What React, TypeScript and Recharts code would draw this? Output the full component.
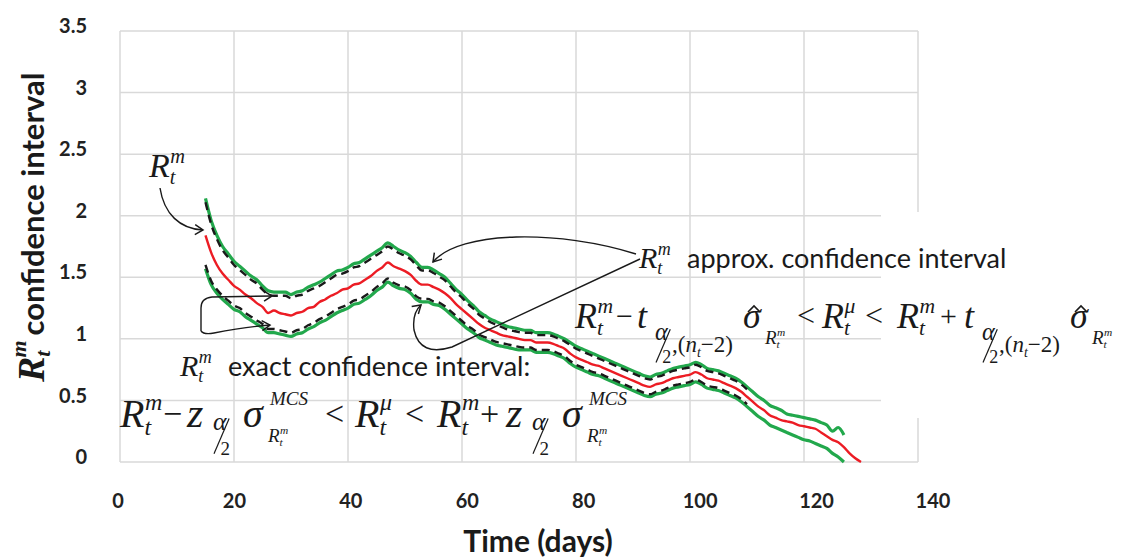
import React from 'react';
import { LineChart, Line, XAxis, YAxis, CartesianGrid } from 'recharts';

// days run from 15 upward, one value per day
const firstDay = 15;

const meanRt = [
  1.84, 1.7, 1.6, 1.53, 1.48, 1.43, 1.4, 1.36, 1.33, 1.29,
  1.26, 1.21, 1.23, 1.21, 1.2, 1.19, 1.21, 1.22, 1.25, 1.26,
  1.3, 1.32, 1.35, 1.37, 1.4, 1.41, 1.44, 1.45, 1.48, 1.51,
  1.55, 1.58, 1.62, 1.59, 1.57, 1.55, 1.52, 1.47, 1.44, 1.44,
  1.42, 1.4, 1.37, 1.33, 1.28, 1.24, 1.2, 1.16, 1.12, 1.09,
  1.07, 1.05, 1.03, 1.02, 1.01, 1.0, 0.99, 0.99, 0.97, 0.97,
  0.97, 0.96, 0.94, 0.92, 0.88, 0.85, 0.83, 0.81, 0.79, 0.78,
  0.76, 0.74, 0.72, 0.7, 0.68, 0.66, 0.64, 0.62, 0.61, 0.63,
  0.64, 0.66, 0.68, 0.69, 0.7, 0.71, 0.73, 0.71, 0.68, 0.67,
  0.66, 0.64, 0.62, 0.6, 0.57, 0.53, 0.49, 0.45, 0.42, 0.38,
  0.36, 0.34, 0.33, 0.32, 0.3, 0.29, 0.28, 0.27, 0.24, 0.21,
  0.18, 0.16, 0.12, 0.07, 0.03, 0.0,
];

// exact (MCS) interval, green
const exactUpper = [
  2.14, 1.96, 1.84, 1.75, 1.69, 1.63, 1.59, 1.55, 1.51, 1.48,
  1.43, 1.39, 1.38, 1.38, 1.38, 1.36, 1.38, 1.39, 1.42, 1.44,
  1.46, 1.49, 1.52, 1.55, 1.56, 1.58, 1.61, 1.62, 1.65, 1.68,
  1.71, 1.74, 1.78, 1.75, 1.72, 1.7, 1.67, 1.62, 1.58, 1.58,
  1.56, 1.53, 1.5, 1.45, 1.4, 1.36, 1.31, 1.27, 1.22, 1.19,
  1.16, 1.14, 1.12, 1.1, 1.09, 1.08, 1.07, 1.07, 1.05, 1.05,
  1.05, 1.04, 1.02, 1.0, 0.97, 0.94, 0.92, 0.9, 0.88, 0.86,
  0.84, 0.82, 0.8, 0.78, 0.76, 0.74, 0.72, 0.7, 0.69, 0.71,
  0.72, 0.74, 0.76, 0.77, 0.78, 0.79, 0.81, 0.79, 0.76, 0.75,
  0.74, 0.72, 0.7, 0.68, 0.65, 0.61, 0.57, 0.53, 0.5, 0.46,
  0.44, 0.42, 0.39, 0.38, 0.37, 0.36, 0.35, 0.34, 0.32, 0.3,
  0.25, 0.28, 0.22,
];

const exactLower = [
  1.57, 1.44, 1.37, 1.32, 1.28, 1.24, 1.22, 1.18, 1.15, 1.12,
  1.09, 1.05, 1.05, 1.04, 1.03, 1.02, 1.04, 1.05, 1.08, 1.1,
  1.13, 1.15, 1.18, 1.21, 1.23, 1.25, 1.28, 1.29, 1.32, 1.35,
  1.39, 1.42, 1.46, 1.43, 1.41, 1.4, 1.37, 1.32, 1.3, 1.3,
  1.28, 1.27, 1.24, 1.2, 1.16, 1.12, 1.08, 1.05, 1.01, 0.99,
  0.97, 0.95, 0.94, 0.93, 0.92, 0.91, 0.91, 0.91, 0.89, 0.89,
  0.89, 0.88, 0.86, 0.84, 0.8, 0.77, 0.75, 0.73, 0.71, 0.7,
  0.68, 0.66, 0.64, 0.62, 0.6, 0.58, 0.56, 0.54, 0.53, 0.55,
  0.56, 0.58, 0.6, 0.61, 0.62, 0.63, 0.65, 0.63, 0.6, 0.59,
  0.58, 0.56, 0.54, 0.52, 0.49, 0.45, 0.41, 0.37, 0.34, 0.3,
  0.28, 0.26, 0.24, 0.22, 0.2, 0.18, 0.17, 0.15, 0.13, 0.11,
  0.07, 0.04, 0.0,
];

// approximate (t) interval, black dashed
const approxUpper = [
  2.11, 1.93, 1.81, 1.72, 1.66, 1.6, 1.56, 1.52, 1.48, 1.45,
  1.4, 1.36, 1.35, 1.35, 1.35, 1.33, 1.35, 1.36, 1.39, 1.41,
  1.43, 1.46, 1.49, 1.52, 1.53, 1.55, 1.58, 1.59, 1.62, 1.65,
  1.68, 1.71, 1.75, 1.725, 1.695, 1.675, 1.645, 1.595, 1.555, 1.555,
  1.535, 1.505, 1.475, 1.425, 1.375, 1.335, 1.285, 1.245, 1.195, 1.165,
  1.135, 1.115, 1.095, 1.075, 1.065, 1.055, 1.05, 1.05, 1.03, 1.03,
  1.03, 1.02, 1.0, 0.98, 0.95, 0.92, 0.9, 0.88, 0.86, 0.84,
  0.82, 0.8, 0.78, 0.76, 0.74, 0.72, 0.7, 0.68, 0.67, 0.69,
  0.7, 0.72, 0.74, 0.75, 0.76, 0.77, 0.79, 0.77, 0.74, 0.73,
  0.72, 0.7, 0.68, 0.66, 0.63, 0.59,
];

const approxLower = [
  1.6, 1.47, 1.4, 1.35, 1.31, 1.27, 1.25, 1.21, 1.18, 1.15,
  1.12, 1.08, 1.08, 1.07, 1.06, 1.05, 1.07, 1.08, 1.11, 1.13,
  1.16, 1.18, 1.21, 1.24, 1.26, 1.28, 1.31, 1.32, 1.35, 1.38,
  1.42, 1.45, 1.49, 1.455, 1.435, 1.425, 1.395, 1.345, 1.325, 1.325,
  1.305, 1.295, 1.265, 1.225, 1.185, 1.145, 1.105, 1.075, 1.035, 1.015,
  0.995, 0.975, 0.965, 0.955, 0.945, 0.935, 0.93, 0.93, 0.91, 0.91,
  0.91, 0.9, 0.88, 0.86, 0.82, 0.79, 0.77, 0.75, 0.73, 0.72,
  0.7, 0.68, 0.66, 0.64, 0.62, 0.6, 0.58, 0.56, 0.55, 0.57,
  0.58, 0.6, 0.62, 0.63, 0.64, 0.65, 0.67, 0.65, 0.62, 0.61,
  0.6, 0.58, 0.56, 0.54, 0.51, 0.47,
];

const xTicks = [0, 20, 40, 60, 80, 100, 120, 140];
const yTicks = [0, 0.5, 1, 1.5, 2, 2.5, 3, 3.5];

const data = meanRt.map((m, i) => ({
  day: firstDay + i,
  mean: m,
  exactHi: exactUpper[i],
  exactLo: exactLower[i],
  approxHi: approxUpper[i],
  approxLo: approxLower[i],
}));

const GREEN = '#22a84c';
const RED = '#ec1c24';
const INK = '#1a1a1a';
const SANS = 'Lato, "Open Sans", sans-serif';
const SERIF = '"Liberation Serif", "DejaVu Serif", serif';

const XTick = (props: any) => {
  const { x, y, payload } = props;
  return (
    <text
      x={x - 2 + (payload.value / 140) * 17}
      y={y + 44}
      textAnchor="middle"
      fontFamily={SANS}
      fontWeight="bold"
      fontSize={20}
      fill="#222"
    >
      {payload.value}
    </text>
  );
};

const YTick = (props: any) => {
  const { y, payload } = props;
  return (
    <text
      x={87}
      y={y - 5}
      dy="0.36em"
      textAnchor="end"
      fontFamily={SANS}
      fontWeight="bold"
      fontSize={20}
      fill="#222"
    >
      {payload.value}
    </text>
  );
};

// R with subscript t and a superscript
const Rsym = ({ x, y, size, sup = 'm' }: any) => (
  <text x={x} y={y} fontFamily={SERIF} fontStyle="italic" fontSize={size} fill={INK}>
    R
    <tspan fontSize={size * 0.6} dy={size * 0.2}>t</tspan>
    <tspan fontSize={size * 0.6} dx={-size * 0.15} dy={-size * 0.62}>{sup}</tspan>
  </text>
);

// slashed alpha over 2
const Half = ({ x, y, size }: any) => (
  <g>
    <text x={x} y={y} fontFamily={SERIF} fontStyle="italic" fontSize={size * 1.35} fill={INK}>α</text>
    <line x1={x + 1} y1={y + size * 1.25} x2={x + size * 0.85} y2={y - size * 0.6} stroke={INK} strokeWidth={1.2} />
    <text x={x + size * 0.4} y={y + size * 1.3} fontFamily={SERIF} fontSize={size} fill={INK}>2</text>
  </g>
);

const Sym = ({ x, y, size, children, italic = true }: any) => (
  <text x={x} y={y} fontFamily={SERIF} fontStyle={italic ? 'italic' : 'normal'} fontSize={size} fill={INK}>
    {children}
  </text>
);

const Hat = ({ x, y }: any) => (
  <path d={`M${x},${y} L${x + 6},${y - 6} L${x + 12},${y}`} fill="none" stroke={INK} strokeWidth={1.6} />
);

const Dof = ({ x, y, size }: any) => (
  <text x={x} y={y} fontFamily={SERIF} fontSize={size} fill={INK}>
    ,(<tspan fontStyle="italic">n</tspan>
    <tspan fontStyle="italic" fontSize={size * 0.6} dy={size * 0.2}>t</tspan>
    <tspan dy={-size * 0.2}>−2)</tspan>
  </text>
);

const Annotations = () => (
  <svg width={1121} height={559} style={{ position: 'absolute', left: 0, top: 0, pointerEvents: 'none' }}>
    <defs>
      <marker id="arr" markerWidth="12" markerHeight="12" refX="9" refY="6" orient="auto" markerUnits="userSpaceOnUse">
        <path d="M1,1 L9,6 L1,11" fill="none" stroke={INK} strokeWidth="1.5" />
      </marker>
    </defs>
    <rect x={881} y={212} width={44} height={206} fill="#fff" />

    {/* y axis title */}
    <g transform="translate(44,382) rotate(-90)">
      <text x={0} y={0} fontFamily={SERIF} fontStyle="italic" fontWeight="bold" fontSize={38} fill={INK}>
        R
        <tspan fontSize={22} dy={6}>t</tspan>
        <tspan fontSize={22} dx={-7} dy={-24}>m</tspan>
        <tspan fontFamily={SANS} fontStyle="normal" fontSize={31} dx={5} dy={18}>confidence interval</tspan>
      </text>
    </g>

    {/* x axis title */}
    <text x={538} y={552} textAnchor="middle" fontFamily={SANS} fontWeight="bold" fontSize={30} fill={INK}>
      Time (days)
    </text>

    {/* top-left R label and arrow */}
    <Rsym x={149} y={177} size={34} />
    <path d="M160,188 C164,214 180,229 203,230" fill="none" stroke={INK} strokeWidth={1.4} markerEnd="url(#arr)" />

    {/* bracket arrows to the exact interval */}
    <path d="M201,331 L201,308 Q201,298 212,297 L272,296" fill="none" stroke={INK} strokeWidth={1.4} markerEnd="url(#arr)" />
    <path d="M201,331 Q204,335 214,333 Q245,327 270,325" fill="none" stroke={INK} strokeWidth={1.4} markerEnd="url(#arr)" />

    {/* exact interval label */}
    <Rsym x={180} y={376} size={30} />
    <text x={228} y={376} fontFamily={SANS} fontSize={27} fill={INK}>exact confidence interval:</text>

    {/* exact interval formula */}
    <Rsym x={120} y={427} size={40} />
    <Sym x={163} y={425} size={34} italic={false}>−</Sym>
    <Sym x={187} y={427} size={42}>z</Sym>
    <Half x={213} y={430} size={19} />
    <Sym x={243} y={427} size={40}>σ</Sym>
    <Sym x={270} y={405} size={19}>MCS</Sym>
    <Rsym x={268} y={442} size={19} />
    <Sym x={325} y={425} size={34} italic={false}>&lt;</Sym>
    <Rsym x={355} y={427} size={40} sup="μ" />
    <Sym x={405} y={425} size={34} italic={false}>&lt;</Sym>
    <Rsym x={437} y={427} size={40} />
    <Sym x={480} y={425} size={34} italic={false}>+</Sym>
    <Sym x={506} y={427} size={42}>z</Sym>
    <Half x={532} y={430} size={19} />
    <Sym x={562} y={427} size={40}>σ</Sym>
    <Sym x={589} y={405} size={19}>MCS</Sym>
    <Rsym x={587} y={442} size={19} />

    {/* approx interval label and arrows */}
    <Rsym x={639} y={268} size={30} />
    <text x={687} y={268} fontFamily={SANS} fontSize={27} fill={INK}>approx. confidence interval</text>
    <path d="M636,254 C560,230 460,230 433,262" fill="none" stroke={INK} strokeWidth={1.4} markerEnd="url(#arr)" />
    <path d="M640,259 L452,347 Q420,357 414,330 Q412,313 421,305" fill="none" stroke={INK} strokeWidth={1.4} markerEnd="url(#arr)" />

    {/* approx interval formula */}
    <Rsym x={575} y={328} size={36} />
    <Sym x={616} y={326} size={30} italic={false}>−</Sym>
    <Sym x={637} y={328} size={36}>t</Sym>
    <Half x={655} y={340} size={18} />
    <Dof x={672} y={352} size={23} />
    <Sym x={743} y={328} size={36}>σ</Sym>
    <Hat x={748} y={312} />
    <Rsym x={765} y={344} size={19} />
    <Sym x={797} y={326} size={32} italic={false}>&lt;</Sym>
    <Rsym x={822} y={328} size={36} sup="μ" />
    <Sym x={865} y={326} size={32} italic={false}>&lt;</Sym>
    <Rsym x={897} y={328} size={36} />
    <Sym x={940} y={326} size={30} italic={false}>+</Sym>
    <Sym x={964} y={328} size={36}>t</Sym>
    <Half x={982} y={340} size={18} />
    <Dof x={999} y={352} size={23} />
    <Sym x={1070} y={328} size={36}>σ</Sym>
    <Hat x={1075} y={312} />
    <Rsym x={1092} y={344} size={19} />
  </svg>
);

export default function App() {
  return (
    <div style={{ position: 'absolute', left: 0, top: 0, width: 1121, height: 559, background: '#fff' }}>
      <LineChart width={1121} height={559} data={data} margin={{ top: 31, right: 203, bottom: 0, left: 0 }}>
        <CartesianGrid stroke="#d9d9d9" strokeWidth={1.5} />
        <XAxis
          dataKey="day"
          type="number"
          domain={[0, 140]}
          ticks={xTicks}
          interval={0}
          tick={(p: any) => <XTick {...p} />}
          tickLine={false}
          axisLine={false}
          tickSize={0}
          height={97}
        />
        <YAxis
          type="number"
          domain={[0, 3.5]}
          ticks={yTicks}
          interval={0}
          tick={(p: any) => <YTick {...p} />}
          tickLine={false}
          axisLine={false}
          tickSize={0}
          width={120}
        />
        <Line type="monotone" dataKey="exactHi" stroke={GREEN} strokeWidth={3.2} dot={false} isAnimationActive={false} />
        <Line type="monotone" dataKey="exactLo" stroke={GREEN} strokeWidth={3.2} dot={false} isAnimationActive={false} />
        <Line type="monotone" dataKey="approxHi" stroke={INK} strokeWidth={2.4} strokeDasharray="8 5" dot={false} isAnimationActive={false} />
        <Line type="monotone" dataKey="approxLo" stroke={INK} strokeWidth={2.4} strokeDasharray="8 5" dot={false} isAnimationActive={false} />
        <Line type="monotone" dataKey="mean" stroke={RED} strokeWidth={2.4} dot={false} isAnimationActive={false} />
      </LineChart>
      <Annotations />
    </div>
  );
}
